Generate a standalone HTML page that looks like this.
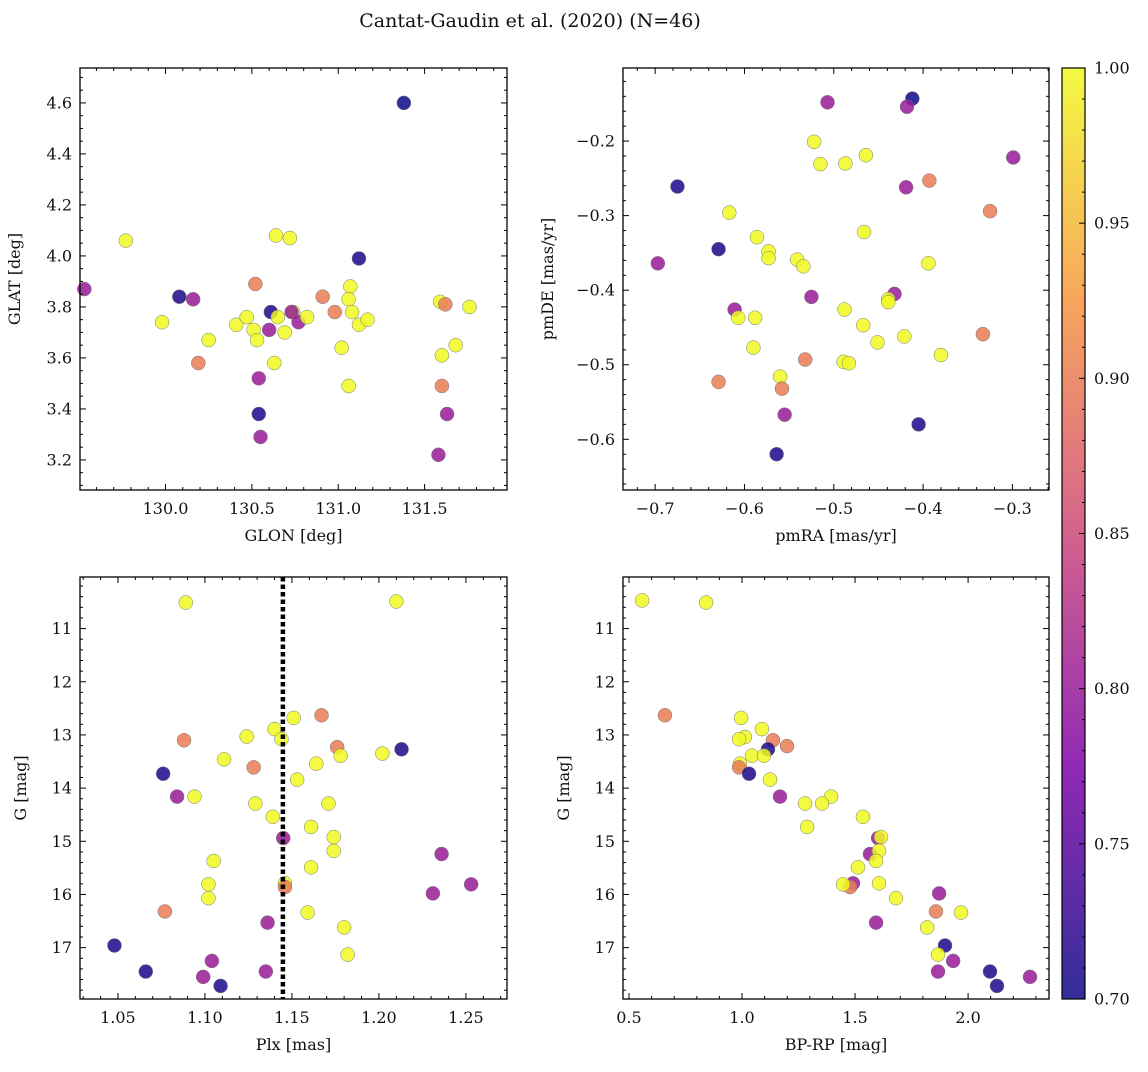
<!DOCTYPE html>
<html><head><meta charset="utf-8"><style>
body{margin:0;background:#fff;}
svg text{font-family:"DejaVu Serif","Liberation Serif",serif;fill:#111;}
</style></head><body>
<svg id="fig" width="1148" height="1067" xmlns="http://www.w3.org/2000/svg">
<text x="530" y="27" font-size="19" text-anchor="middle">Cantat-Gaudin et al. (2020) (N=46)</text>
</svg>
<script>
// Panel 1: GLON vs GLAT
const glonX=[131.38,129.77,130.64,130.72,131.12,129.53,130.08,130.16,129.98,130.25,130.19,130.41,130.47,130.51,130.53,130.52,130.61,130.65,130.60,130.69,130.74,130.73,130.77,130.82,130.63,130.54,130.54,130.55,130.91,130.98,131.07,131.06,131.08,131.12,131.17,131.02,131.06,131.59,131.62,131.60,131.68,131.76,131.60,131.63,131.58];
const glatY=[4.60,4.06,4.08,4.07,3.99,3.87,3.84,3.83,3.74,3.67,3.58,3.73,3.76,3.71,3.67,3.89,3.78,3.76,3.71,3.70,3.78,3.78,3.74,3.76,3.58,3.52,3.38,3.29,3.84,3.78,3.88,3.83,3.78,3.73,3.75,3.64,3.49,3.82,3.81,3.61,3.65,3.80,3.49,3.38,3.22];
const glonP=[0.70,1,1,1,0.71,0.80,0.71,0.80,1,1,0.90,1,1,1,1,0.90,0.71,1,0.80,1,1,0.80,0.80,1,1,0.80,0.71,0.80,0.90,0.90,1,1,1,1,1,1,1,1,0.90,1,1,1,0.90,0.80,0.80];
// Panel 2: pmRA vs pmDE
const pmraX=[-0.507,-0.412,-0.418,-0.522,-0.464,-0.515,-0.487,-0.299,-0.675,-0.419,-0.393,-0.325,-0.617,-0.586,-0.466,-0.573,-0.573,-0.629,-0.541,-0.534,-0.394,-0.697,-0.432,-0.439,-0.439,-0.525,-0.611,-0.607,-0.588,-0.488,-0.467,-0.451,-0.421,-0.333,-0.380,-0.590,-0.629,-0.532,-0.489,-0.483,-0.560,-0.558,-0.555,-0.405,-0.564];
const pmdeY=[-0.148,-0.143,-0.154,-0.201,-0.219,-0.231,-0.230,-0.222,-0.261,-0.262,-0.253,-0.294,-0.296,-0.329,-0.322,-0.348,-0.357,-0.345,-0.359,-0.368,-0.364,-0.364,-0.405,-0.412,-0.416,-0.409,-0.426,-0.437,-0.437,-0.426,-0.447,-0.470,-0.462,-0.459,-0.487,-0.477,-0.523,-0.493,-0.496,-0.498,-0.516,-0.532,-0.567,-0.580,-0.620];
const pmP=[0.80,0.70,0.80,1,1,1,1,0.80,0.71,0.80,0.90,0.90,1,1,1,1,1,0.71,1,1,1,0.80,0.80,1,1,0.80,0.80,1,1,1,1,1,1,0.90,1,1,0.90,0.90,1,1,1,0.90,0.80,0.71,0.71];
// Panel 3: Plx vs G
const plxX=[1.089,1.210,1.167,1.151,1.140,1.144,1.124,1.088,1.213,1.176,1.178,1.202,1.164,1.111,1.128,1.076,1.153,1.084,1.094,1.129,1.171,1.139,1.161,1.145,1.174,1.174,1.236,1.105,1.161,1.146,1.146,1.253,1.231,1.102,1.102,1.077,1.159,1.136,1.180,1.048,1.182,1.104,1.066,1.135,1.099,1.109];
const plxG=[10.51,10.49,12.63,12.68,12.89,13.08,13.03,13.10,13.27,13.23,13.39,13.35,13.54,13.46,13.61,13.73,13.84,14.16,14.16,14.29,14.29,14.54,14.73,14.94,14.92,15.18,15.24,15.37,15.49,15.79,15.86,15.81,15.98,15.81,16.07,16.32,16.34,16.53,16.62,16.96,17.13,17.25,17.45,17.45,17.55,17.72];
const plxP=[1,1,0.90,1,1,1,1,0.90,0.71,0.90,1,1,1,1,0.90,0.71,1,0.80,1,1,1,1,1,0.80,1,1,0.80,1,1,1,0.90,0.80,0.80,1,1,0.90,1,0.80,1,0.71,1,0.80,0.71,0.80,0.80,0.71];
// Panel 4: BP-RP vs G
const bprpX=[0.558,0.841,0.659,0.996,1.088,1.013,0.987,1.137,1.115,1.199,1.044,1.097,0.991,0.987,1.031,1.124,1.168,1.394,1.354,1.279,1.288,1.535,1.602,1.615,1.566,1.606,1.593,1.513,1.606,1.491,1.478,1.447,1.872,1.681,1.858,1.969,1.593,1.819,1.898,1.867,1.934,1.867,2.097,2.274,2.128];
const bprpG=[10.47,10.51,12.63,12.68,12.89,13.04,13.08,13.10,13.27,13.21,13.39,13.39,13.54,13.61,13.73,13.84,14.16,14.16,14.29,14.29,14.73,14.54,14.94,14.92,15.24,15.18,15.37,15.49,15.79,15.79,15.86,15.81,15.98,16.07,16.32,16.34,16.53,16.62,16.96,17.13,17.25,17.45,17.45,17.55,17.72];
const bprpP=[1,1,0.90,1,1,1,1,0.90,0.71,0.90,1,1,1,0.90,0.71,1,0.80,1,1,1,1,1,0.80,1,0.80,1,1,1,1,0.80,0.90,1,0.80,1,0.90,1,0.80,1,0.71,1,0.80,0.80,0.71,0.80,0.71];
const plxCut=[1.1448];
const cbarTicks=[0.70,0.75,0.80,0.85,0.90,0.95,1.00];

const NS="http://www.w3.org/2000/svg";
const svg=document.getElementById('fig');
function mk(tag,attrs,parent){const e=document.createElementNS(NS,tag);for(const k in attrs)e.setAttribute(k,attrs[k]);(parent||svg).appendChild(e);return e;}
const stops=[[0,[13,8,135]],[0.25,[126,3,168]],[0.5,[204,71,120]],[0.75,[248,149,64]],[1,[240,249,33]]];
function plasma(t){t=Math.max(0,Math.min(1,t));for(let i=1;i<stops.length;i++){if(t<=stops[i][0]){const a=stops[i-1],b=stops[i];const f=(t-a[0])/(b[0]-a[0]);const c=a[1].map((v,j)=>Math.round(v+(b[1][j]-v)*f));return `rgb(${c[0]},${c[1]},${c[2]})`;}}return 'rgb(240,249,33)';}
function fmt(v,d){const s=Math.abs(v).toFixed(d);return (v<-1e-9?'−':'')+s;}

function panel(o){
  const g=mk('g',{});
  
  
  const sx=v=>o.L+(v-o.x0)/(o.x1-o.x0)*(o.R-o.L);
  const sy=v=>o.B-(v-o.y0)/(o.y1-o.y0)*(o.B-o.T);
  for(let i=0;i<o.xs.length;i++){
    const c=mk('circle',{cx:sx(o.xs[i]),cy:sy(o.ys[i]),r:7,fill:plasma((o.ps[i]-0.7)/0.3),'fill-opacity':0.85,stroke:'#777','stroke-width':0.5},g);
    
    
  }
  if(o.line)o.line(g,sx,sy);
  const fr=mk('rect',{x:o.L,y:o.T,width:o.R-o.L,height:o.B-o.T,fill:'none',stroke:'#000','stroke-width':1.3},g);
  
  
  const eps=1e-6;
  const xa=Math.min(o.x0,o.x1),xb=Math.max(o.x0,o.x1);
  for(let v=Math.ceil(xa/o.xmin-eps)*o.xmin;v<=xb+eps;v+=o.xmin){
    const x=sx(v);const isMaj=Math.abs(v/o.xmaj-Math.round(v/o.xmaj))<1e-4;const l=isMaj?6:3;
    mk('line',{x1:x,x2:x,y1:o.B,y2:o.B-l,stroke:'#000','stroke-width':1},g);
    mk('line',{x1:x,x2:x,y1:o.T,y2:o.T+l,stroke:'#000','stroke-width':1},g);
    if(isMaj){const t=mk('text',{x:x,y:o.B+24,'font-size':16,'text-anchor':'middle'},g);t.textContent=fmt(v,o.xd);
      }
  }
  const ya=Math.min(o.y0,o.y1),yb=Math.max(o.y0,o.y1);
  for(let v=Math.ceil(ya/o.ymin-eps)*o.ymin;v<=yb+eps;v+=o.ymin){
    const y=sy(v);const isMaj=Math.abs(v/o.ymaj-Math.round(v/o.ymaj))<1e-4;const l=isMaj?6:3;
    mk('line',{y1:y,y2:y,x1:o.L,x2:o.L+l,stroke:'#000','stroke-width':1},g);
    mk('line',{y1:y,y2:y,x1:o.R,x2:o.R-l,stroke:'#000','stroke-width':1},g);
    if(isMaj){const t=mk('text',{x:o.L-8,y:y+5.5,'font-size':16,'text-anchor':'end'},g);t.textContent=fmt(v,o.yd);
      }
  }
  const xl=mk('text',{x:(o.L+o.R)/2,y:o.B+51,'font-size':16,'text-anchor':'middle'},g);xl.textContent=o.xlab;
  
  const yx=o.L-o.ylo, yy=(o.T+o.B)/2;
  const yl=mk('text',{x:yx,y:yy,'font-size':16,'text-anchor':'middle',transform:`rotate(-90 ${yx} ${yy})`},g);yl.textContent=o.ylab;
  
}
panel({name:'glon-glat-panel',L:80,R:507,T:68,B:490,x0:129.505,x1:131.977,y0:3.082,y1:4.737,xmaj:0.5,xmin:0.1,ymaj:0.2,ymin:0.05,xd:1,yd:1,xs:glonX,ys:glatY,ps:glonP,xlab:'GLON [deg]',ylab:'GLAT [deg]',ylo:60});
panel({name:'pm-panel',L:623,R:1049,T:68,B:490,x0:-0.736,x1:-0.259,y0:-0.668,y1:-0.102,xmaj:0.1,xmin:0.02,ymaj:0.1,ymin:0.02,xd:1,yd:1,xs:pmraX,ys:pmdeY,ps:pmP,xlab:'pmRA [mas/yr]',ylab:'pmDE [mas/yr]',ylo:70});
panel({name:'plx-g-panel',L:80,R:507,T:577,B:999,x0:1.0282,x1:1.2736,y0:17.966,y1:10.03,xmaj:0.05,xmin:0.01,ymaj:1,ymin:0.2,xd:2,yd:0,xs:plxX,ys:plxG,ps:plxP,xlab:'Plx [mas]',ylab:'G [mag]',ylo:54,
  line:(g,sx,sy)=>{const x=sx(plxCut[0]);const l=mk('line',{x1:x,x2:x,y1:577,y2:999,stroke:'#000','stroke-width':4.5,'stroke-dasharray':'4.5 3'},g);
    }});
panel({name:'cmd-panel',L:623,R:1049,T:577,B:999,x0:0.4735,x1:2.358,y0:17.966,y1:10.03,xmaj:0.5,xmin:0.1,ymaj:1,ymin:0.2,xd:1,yd:0,xs:bprpX,ys:bprpG,ps:bprpP,xlab:'BP-RP [mag]',ylab:'G [mag]',ylo:54});

// colorbar
const cb=mk('g',{});


const defs=mk('defs',{},cb);
const lg=mk('linearGradient',{id:'cg',x1:0,y1:1,x2:0,y2:0},defs);
for(let i=0;i<=20;i++){mk('stop',{offset:i/20,'stop-color':plasma(i/20),'stop-opacity':0.85},lg);}
const CT=68,CB=999,CL=1062,CR=1085;
mk('rect',{x:CL,y:CT,width:CR-CL,height:CB-CT,fill:'url(#cg)',stroke:'#000','stroke-width':1.2},cb);
const cy=v=>CB-(v-0.7)/0.3*(CB-CT);
for(let v=0.70;v<=1.0001;v+=0.01){const y=cy(v);const maj=Math.abs(v*20-Math.round(v*20))<1e-4;
  mk('line',{x1:CR,x2:CR-(maj?6:3),y1:y,y2:y,stroke:'#000','stroke-width':1},cb);}
cbarTicks.forEach(v=>{const t=mk('text',{x:CR+9,y:cy(v)+5.5,'font-size':16},cb);t.textContent=v.toFixed(2);
  });
</script>
</body></html>
